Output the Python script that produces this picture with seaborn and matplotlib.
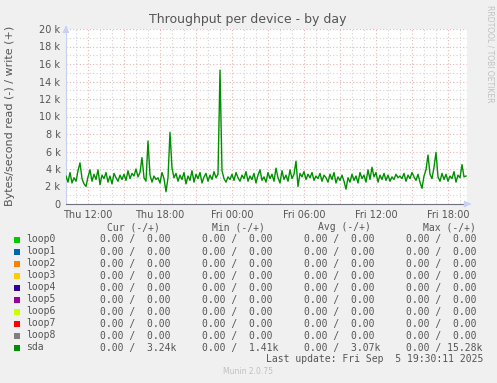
import numpy as np
import pandas as pd
import matplotlib
matplotlib.use("Agg")
import matplotlib.pyplot as plt
import seaborn as sns

# sda write throughput (k bytes/s), one value every 10 minutes from Thu 10:10
sda_write_k = [
    3.2, 2.5, 3.6, 2.4, 3.0, 2.6, 3.8, 4.7, 2.9, 2.3,
    2.0, 3.1, 3.9, 2.6, 3.4, 2.8, 3.9, 2.2, 3.3, 2.9,
    3.6, 2.5, 3.2, 2.3, 3.5, 3.0, 2.6, 3.3, 2.8, 3.4,
    2.7, 3.8, 2.9, 3.5, 3.2, 4.0, 3.1, 3.6, 5.3, 3.0,
    2.6, 7.2, 3.3, 2.5, 3.2, 2.8, 3.0, 2.4, 3.6, 2.9,
    1.4, 3.0, 8.2, 4.1, 3.0, 3.5, 2.6, 3.3, 2.8, 3.6,
    2.3, 3.2, 2.7, 3.8, 2.5, 3.4, 2.9, 3.6, 2.4, 3.1,
    3.5, 2.6, 3.3, 2.8, 3.7, 3.0, 3.4, 15.3, 3.8, 2.9,
    2.5, 3.1, 2.8, 3.4, 2.7, 3.6, 3.0, 2.6, 3.3, 2.9,
    3.7, 2.6, 3.2, 2.8, 3.5, 2.4, 3.3, 3.9, 2.7, 3.1,
    2.5, 3.6, 2.9, 3.4, 2.6, 4.1, 3.0, 2.4, 3.8, 2.8,
    3.3, 2.6, 3.9, 2.9, 3.4, 4.9, 2.0, 3.5, 3.1, 3.7,
    2.8, 3.4, 3.0, 3.6, 2.7, 3.2, 2.9, 3.5, 2.6, 3.3,
    3.0, 2.5, 3.4, 2.8, 3.6, 2.4, 3.1, 2.7, 3.3, 2.6,
    1.7, 3.0, 2.5, 3.4, 2.7, 3.2, 2.4, 3.6, 2.9, 3.3,
    2.5, 3.9, 2.8, 4.2, 3.1, 3.6, 2.5, 3.3, 2.8, 3.5,
    2.7, 3.3, 2.6, 3.1, 2.8, 3.4, 3.0, 3.2, 2.9, 3.5,
    2.6, 3.3, 2.9, 3.6, 3.1, 2.7, 3.4, 2.5, 1.8, 3.2,
    3.9, 5.6, 3.4, 2.9, 4.2, 5.9, 3.1, 2.6, 3.5, 2.8,
    3.4, 2.6, 3.2, 2.9, 3.7, 2.5, 3.3, 3.0, 4.5, 3.1,
    3.2,
]
start_hour = 10 + 10 / 60  # Thu 10:10, hours since Thu 00:00
step_hour = 10 / 60

tick_hours = [12, 18, 24, 30, 36, 42]
tick_labels = ["Thu 12:00", "Thu 18:00", "Fri 00:00", "Fri 06:00", "Fri 12:00", "Fri 18:00"]
y_ticks = [0, 2, 4, 6, 8, 10, 12, 14, 16, 18, 20]
y_labels = ["0"] + [f"{v} k" for v in y_ticks[1:]]

devices = ["loop0", "loop1", "loop2", "loop3", "loop4", "loop5", "loop6", "loop7", "loop8", "sda"]
colors = ["#00CC00", "#0066B3", "#FF8000", "#FFCC00", "#330099",
          "#990099", "#CCFF00", "#FF0000", "#808080", "#008F00"]
cur = ["0.00 /  0.00"] * 9 + ["0.00 /  3.24k"]
mins = ["0.00 /  0.00"] * 9 + ["0.00 /  1.41k"]
avgs = ["0.00 /  0.00"] * 9 + ["0.00 /  3.07k"]
maxs = ["0.00 /  0.00"] * 9 + ["0.00 / 15.28k"]

df = pd.DataFrame({
    "hour": start_hour + step_hour * np.arange(len(sda_write_k)),
    "write": sda_write_k,
})

W, H = 497, 383
bg = "#F0F0F0"
fig = plt.figure(figsize=(W / 100, H / 100), dpi=100, facecolor=bg)
x0, x1, ytop, ybot = 66, 467, 29, 204
ax = fig.add_axes([x0 / W, 1 - ybot / H, (x1 - x0) / W, (ybot - ytop) / H])
ax.set_facecolor("white")

xmin = 12 - 22 / 12
xmax = 12 + (x1 - 88) / 12
ax.set_xlim(xmin, xmax)
ax.set_ylim(0, 20)

# grid: minor gray, major red
dots = (0, (1, 2))
for h in np.arange(11, 44):
    c = "#E6B4B4" if h % 3 == 0 else "#D4D4D4"
    ax.axvline(h, color=c, lw=0.8, ls=dots, zorder=0)
for v in range(1, 21):
    c = "#E6B4B4" if v % 2 == 0 else "#D4D4D4"
    ax.axhline(v, color=c, lw=0.8, ls=dots, zorder=0)

sns.lineplot(data=df, x="hour", y="write", color="#008F00", lw=1.0, ax=ax, zorder=3)

ax.set_xticks(tick_hours)
ax.set_xticklabels(tick_labels)
ax.set_yticks(y_ticks)
ax.set_yticklabels(y_labels)
ax.tick_params(length=0, labelsize=7, colors="#555555", pad=4)
ax.set_xlabel("")
ax.set_ylabel("")
fig.text(10 / W, 1 - 116 / H, "Bytes/second read (-) / write (+)", fontsize=8, color="#555555",
         rotation=90, ha="center", va="center")
for s in ["top", "right"]:
    ax.spines[s].set_visible(False)
ax.spines["left"].set_color("#C8D0F0")
ax.spines["bottom"].set_color("#707080")
ax.spines["left"].set_linewidth(0.8)
ax.spines["bottom"].set_linewidth(0.8)

# axis arrows
ax.annotate("", xy=(xmax + 0.35, 0), xytext=(xmax - 0.05, 0),
            arrowprops=dict(arrowstyle="-|>", color="#C8D0F8", lw=0.8), annotation_clip=False)
ax.annotate("", xy=(xmin, 20.7), xytext=(xmin, 19.9),
            arrowprops=dict(arrowstyle="-|>", color="#C8D0F8", lw=0.8), annotation_clip=False)

def px(x, y):
    return x / W, 1 - y / H

fig.text(*px(248, 19), "Throughput per device - by day", fontsize=9, color="#555555",
         ha="center", va="center")
fig.text(*px(490, 5), "RRDTOOL / TOBI OETIKER", fontsize=5.5, color="#C0C0C0",
         rotation=270, ha="center", va="top")

mono = "DejaVu Sans Mono"
tc = "#555555"
fs = 7
fig.text(*px(107, 227), "Cur (-/+)", family=mono, fontsize=fs, color=tc, va="center")
fig.text(*px(212, 227), "Min (-/+)", family=mono, fontsize=fs, color=tc, va="center")
fig.text(*px(318, 227), "Avg (-/+)", family=mono, fontsize=fs, color=tc, va="center")
fig.text(*px(423, 227), "Max (-/+)", family=mono, fontsize=fs, color=tc, va="center")
for i, name in enumerate(devices):
    y = 239.5 + i * 12
    fig.patches.append(plt.Rectangle(px(14, y + 3), 6 / W, 6 / H, transform=fig.transFigure,
                                     facecolor=colors[i], edgecolor="none"))
    fig.text(*px(26, y), name, family=mono, fontsize=fs, color=tc, va="center")
    fig.text(*px(100, y), cur[i], family=mono, fontsize=fs, color=tc, va="center")
    fig.text(*px(202, y), mins[i], family=mono, fontsize=fs, color=tc, va="center")
    fig.text(*px(304, y), avgs[i], family=mono, fontsize=fs, color=tc, va="center")
    fig.text(*px(406, y), maxs[i], family=mono, fontsize=fs, color=tc, va="center")
fig.text(*px(483, 359.5), "Last update: Fri Sep  5 19:30:11 2025", family=mono, fontsize=fs,
         color=tc, va="center", ha="right")
fig.text(*px(248, 372), "Munin 2.0.75", fontsize=5.5, color="#C0C0C0", ha="center", va="center")

fig.savefig("out.png", dpi=100, facecolor=bg)
